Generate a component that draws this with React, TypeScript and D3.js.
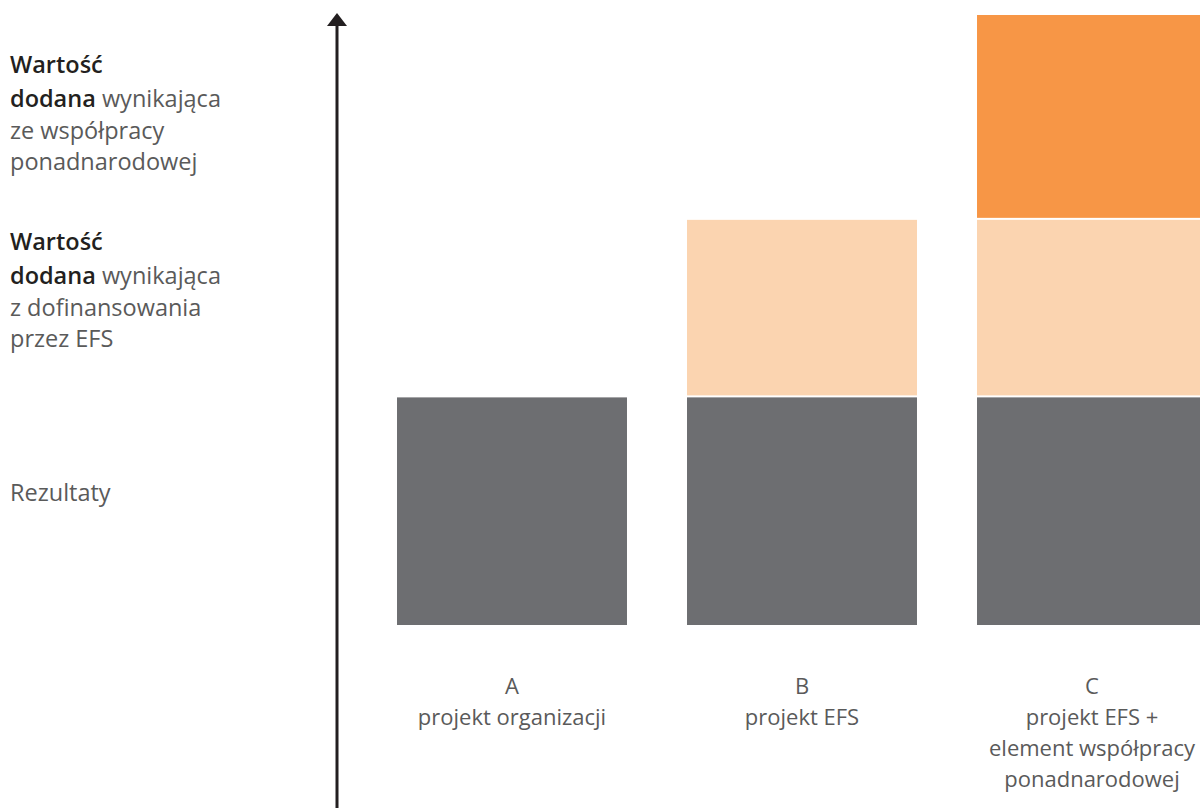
import React from "react";
import * as d3 from "d3";

const categories = ["A", "B", "C"];
const categoryLabels = [
  ["A", "projekt organizacji"],
  ["B", "projekt EFS"],
  ["C", "projekt EFS +", "element współpracy", "ponadnarodowej"],
];
const layers = ["rezultaty", "efs", "wspolpraca"];
const rezultaty = [1, 1, 1];
const efs = [0, 0.78, 0.78];
const wspolpraca = [0, 0, 0.9];
const layerColors = ["#6d6e71", "#fbd4b0", "#f79646"];

const W = 1200;
const H = 808;
const FONT = "'Open Sans', 'Noto Sans', sans-serif";

const App = () => {
  const rows = categories.map((c, i) => ({
    cat: c,
    rezultaty: rezultaty[i],
    efs: efs[i],
    wspolpraca: wspolpraca[i],
  }));
  const stack = d3.stack<any>().keys(layers)(rows);

  const x = d3.scaleBand().domain(categories).range([367, 1237]).paddingInner(0.207).paddingOuter(0.1035);
  const y = d3.scaleLinear().domain([0, 2.68]).range([625, 15]);
  const color = d3.scaleOrdinal<string, string>().domain(layers).range(layerColors);

  const gap = 2;

  return (
    <svg width={W} height={H} style={{ position: "absolute", left: 0, top: 0 }} fontFamily={FONT}>
      {stack.map((s, li) =>
        s.map((d, i) => {
          if (d[1] - d[0] <= 0) return null;
          const top = y(d[1]);
          const bottom = y(d[0]) - (li > 0 ? gap : 0);
          return (
            <rect
              key={`${li}-${i}`}
              x={x(categories[i])}
              y={top}
              width={x.bandwidth()}
              height={bottom - top}
              fill={color(layers[li])}
            />
          );
        })
      )}
      {/* axis */}
      <line x1={337} x2={337} y1={24} y2={808} stroke="#231f20" strokeWidth={3} />
      <path d="M327,26 L337,13 L347,26 Z" fill="#231f20" />

      {/* left legend */}
      <g fontSize={23.5} fill="#5a5a5a">
        <text x={10} y={73} fontWeight={600} fill="#231f20">Wartość</text>
        <text x={10} y={107}>
          <tspan fontWeight={600} fill="#231f20">dodana</tspan> wynikająca
        </text>
        <text x={10} y={139}>ze współpracy</text>
        <text x={10} y={170}>ponadnarodowej</text>

        <text x={10} y={250} fontWeight={600} fill="#231f20">Wartość</text>
        <text x={10} y={284}>
          <tspan fontWeight={600} fill="#231f20">dodana</tspan> wynikająca
        </text>
        <text x={10} y={316}>z dofinansowania</text>
        <text x={10} y={347}>przez EFS</text>

        <text x={10} y={501}>Rezultaty</text>
      </g>

      {/* category labels */}
      <g fontSize={22} fill="#5a5a5a" textAnchor="middle">
        {categories.map((c, i) => (
          <text key={c} x={(x(c) as number) + x.bandwidth() / 2} y={694}>
            {categoryLabels[i].map((l, j) => (
              <tspan key={j} x={(x(c) as number) + x.bandwidth() / 2} dy={j === 0 ? 0 : 31}>
                {l}
              </tspan>
            ))}
          </text>
        ))}
      </g>
    </svg>
  );
};

export default App;
